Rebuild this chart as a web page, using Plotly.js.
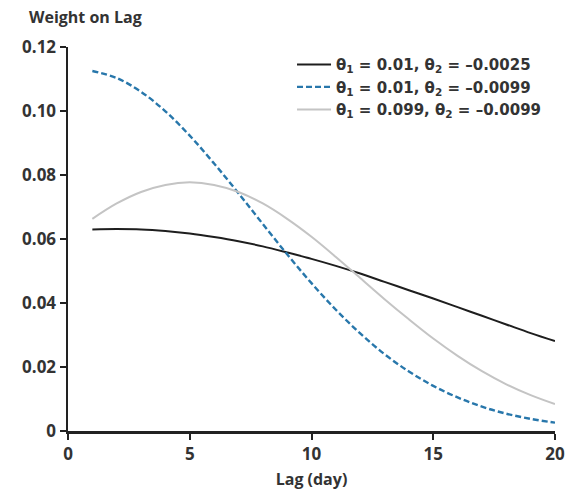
<!DOCTYPE html>
<html>
<head>
<meta charset="utf-8">
<script src="https://cdn.plot.ly/plotly-3.0.1.min.js"></script>
<style>html,body{margin:0;padding:0;background:#fff;}#chart{width:565px;height:498px;}</style>
</head>
<body>
<div id="chart"></div>
<script>
const lags = [1,2,3,4,5,6,7,8,9,10,11,12,13,14,15,16,17,18,19,20];
const seriesNames = [
  "θ<sub>1</sub> = 0.01, θ<sub>2</sub> = –0.0025",
  "θ<sub>1</sub> = 0.01, θ<sub>2</sub> = –0.0099",
  "θ<sub>1</sub> = 0.099, θ<sub>2</sub> = –0.0099"
];
const weightsA = [0.0630,0.0631,0.0630,0.0625,0.0617,0.0606,0.0593,0.0577,0.0558,0.0538,0.0516,0.0492,0.0466,0.0440,0.0414,0.0387,0.0360,0.0333,0.0306,0.0281];
const weightsB = [0.1125,0.1103,0.1060,0.0999,0.0923,0.0836,0.0743,0.0647,0.0552,0.0462,0.0379,0.0305,0.0240,0.0186,0.0141,0.0105,0.0076,0.0054,0.0038,0.0026];
const weightsC = [0.0663,0.0711,0.0747,0.0769,0.0777,0.0769,0.0747,0.0711,0.0663,0.0607,0.0544,0.0478,0.0412,0.0349,0.0289,0.0235,0.0187,0.0146,0.0112,0.0084];
const yTickVals = [0,0.02,0.04,0.06,0.08,0.10,0.12];
const yTickText = ["0","0.02","0.04","0.06","0.08","0.10","0.12"];
const xTickVals = [0,5,10,15,20];

const fontFam = "'Open Sans', sans-serif";
const legFam = "'DejaVu Sans', sans-serif";
const txtColor = '#333333';
const traces = [
  {x: lags, y: weightsA, name: seriesNames[0], mode: 'lines', line: {color: '#1e1e1e', width: 2, shape: 'spline'}},
  {x: lags, y: weightsB, name: seriesNames[1], mode: 'lines', line: {color: '#2877ab', width: 2.4, dash: '6px,3px', shape: 'spline'}},
  {x: lags, y: weightsC, name: seriesNames[2], mode: 'lines', line: {color: '#c4c4c4', width: 2, shape: 'spline'}}
];
const layout = {
  width: 565, height: 498,
  margin: {l: 68, r: 10, t: 47, b: 67},
  paper_bgcolor: '#fff', plot_bgcolor: '#fff',
  font: {family: fontFam, size: 16, color: txtColor, weight: 'bold'},
  showlegend: true,
  legend: {x: 0.46, y: 0.997, xanchor: 'left', yanchor: 'top', bgcolor: 'rgba(0,0,0,0)', itemwidth: 34,
           font: {family: legFam, size: 15, color: txtColor, weight: 'bold'}, tracegroupgap: 0},
  xaxis: {range: [0, 20], tickvals: xTickVals, ticks: 'outside', ticklen: 6, tickwidth: 2, tickcolor: '#222',
          showline: true, linecolor: '#222', linewidth: 2.5, showgrid: false, zeroline: false,
          tickfont: {family: fontFam, size: 17, color: txtColor, weight: 'bold'},
          title: {text: 'Lag (day)', standoff: 10, font: {family: fontFam, size: 16, color: txtColor, weight: 'bold'}}},
  yaxis: {range: [0, 0.12], tickvals: yTickVals, ticktext: yTickText, ticks: 'outside', ticklen: 6, tickwidth: 2, tickcolor: '#222',
          showline: true, linecolor: '#222', linewidth: 2.5, showgrid: false, zeroline: false,
          tickfont: {family: fontFam, size: 17, color: txtColor, weight: 'bold'}},
  annotations: [{text: 'Weight on Lag', xref: 'paper', yref: 'paper', x: -0.084, y: 1.077, xanchor: 'left', yanchor: 'middle',
                 showarrow: false, font: {family: fontFam, size: 16, color: txtColor, weight: 'bold'}}]
};
Plotly.newPlot('chart', traces, layout, {displayModeBar: false, staticPlot: true});
</script>
</body>
</html>
